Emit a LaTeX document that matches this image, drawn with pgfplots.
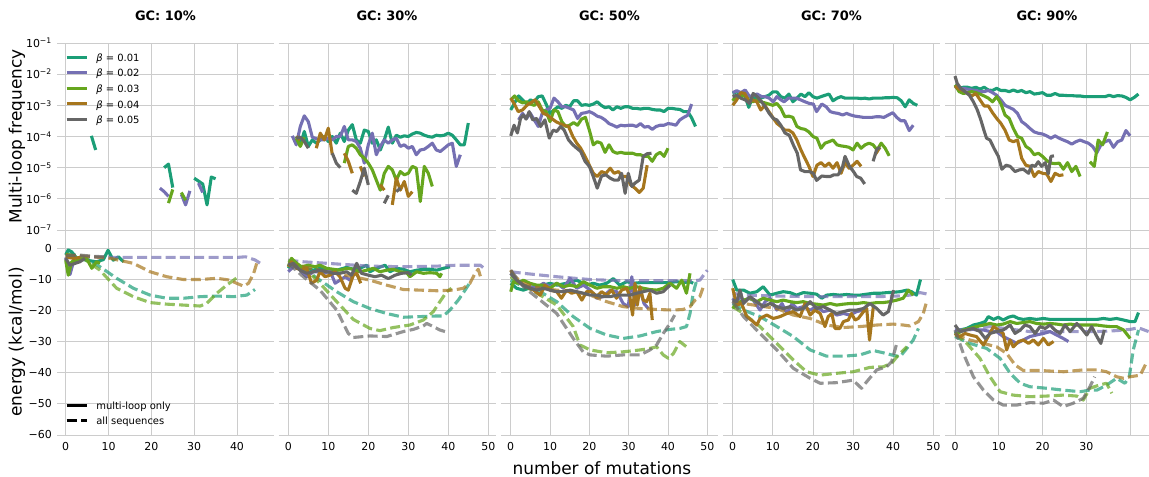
\documentclass[border=0pt]{standalone}
\usepackage{fontspec}
\setmainfont{DejaVu Sans}
\usepackage{pgfplots}
\pgfplotsset{compat=1.18}
\definecolor{c1}{HTML}{1B9E77}
\definecolor{c2}{HTML}{7570B3}
\definecolor{c3}{HTML}{66A61E}
\definecolor{c4}{HTML}{A6761D}
\definecolor{c5}{HTML}{666666}
\definecolor{gridc}{HTML}{CCCCCC}
\pgfplotsset{
  mylw/.style={line width=3.1bp, line join=round, line cap=butt},
  s1/.style={mylw, color=c1, forget plot},
  s2/.style={mylw, color=c2, forget plot},
  s3/.style={mylw, color=c3, forget plot},
  s4/.style={mylw, color=c4, forget plot},
  s5/.style={mylw, color=c5, forget plot},
  mydash/.style={mylw, draw opacity=0.7, dash pattern=on 10bp off 4.3bp},
  d1/.style={mydash, color=c1, forget plot},
  d2/.style={mydash, color=c2, forget plot},
  d3/.style={mydash, color=c3, forget plot},
  d4/.style={mydash, color=c4, forget plot},
  d5/.style={mydash, color=c5, forget plot},
  mybase/.style={
    scale only axis, width=217bp, anchor=south west,
    axis line style={draw=none},
    major tick length=0pt, tick style={draw=none},
    grid=major, major grid style={draw=gridc, line width=0.9bp},
    ticklabel style={font=\fontsize{11}{13}\selectfont, inner sep=0pt},
    xticklabel style={yshift=-7bp},
    yticklabel style={xshift=-5bp},
    unbounded coords=jump,
    title style={font=\bfseries\fontsize{13}{15}\selectfont, at={(0.5,1)}, anchor=base, yshift=16.3bp},
    legend cell align=left,
    legend image code/.code={\draw[#1] (0bp,1bp) -- (20bp,1bp);},
  },
  toprow/.style={mybase, height=187bp, ymin=1e-7, ymax=1e-1,
    ytick={1e-7,1e-6,1e-5,1e-4,1e-3,1e-2,1e-1}, yticklabels={,,,,,,}, xticklabels={,,,,,,}},
  botrow/.style={mybase, height=205bp, ymin=-60, ymax=5.8,
    ytick={-60,-50,-40,-30,-20,-10,0}, yticklabels={,,,,,,}},
  ylab/.style={ylabel style={at={(axis description cs:-0.184,#1)}, anchor=center, font=\fontsize{17}{20}\selectfont}},
}
\begin{document}
\begin{tikzpicture}
\useasboundingbox (0,0) rectangle (1149bp,477bp);

% ================= TOP ROW =================
\begin{semilogyaxis}[toprow, at={(57bp,247bp)}, xmin=-2.03, xmax=48.64, xtick={0,10,20,30,40},
  title={GC: 10\%},
  yticklabels={10\textsuperscript{−7},10\textsuperscript{−6},10\textsuperscript{−5},10\textsuperscript{−4},10\textsuperscript{−3},10\textsuperscript{−2},10\textsuperscript{−1}},
  ylabel={Multi-loop frequency}, ylab=0.5,
  legend style={draw=none, fill=none, inner sep=0pt, nodes={inner sep=0pt}, row sep=6.5bp, column sep=8bp,
    font=\fontsize{10}{12}\selectfont, at={(axis description cs:0,1)}, anchor=north west, xshift=8bp, yshift=-10.3bp}]
\addlegendimage{color=c1, line width=3.1bp}\addlegendentry{{\itshape β} = 0.01}
\addlegendimage{color=c2, line width=3.1bp}\addlegendentry{{\itshape β} = 0.02}
\addlegendimage{color=c3, line width=3.1bp}\addlegendentry{{\itshape β} = 0.03}
\addlegendimage{color=c4, line width=3.1bp}\addlegendentry{{\itshape β} = 0.04}
\addlegendimage{color=c5, line width=3.1bp}\addlegendentry{{\itshape β} = 0.05}
\addplot[s1] coordinates {(6,1.05e-4)(7,3.7e-5)(8,nan)(23,1.0e-5)(24,1.3e-5)(25,2.3e-6)(26,nan)(30,4.6e-6)(32,3.0e-6)(33,6.4e-7)(34,5.0e-6)(35,4.4e-6)};
\addplot[s2] coordinates {(22,2.2e-6)(23,1.7e-6)(24,1.2e-6)(25,nan)(27,1.4e-6)(28,6.4e-7)(29,1.8e-6)(30,nan)(31,3.2e-6)(32,1.6e-6)};
\addplot[s3] coordinates {(24,7.3e-7)(25,2.0e-6)(26,nan)(27,1.6e-6)(28,9e-7)};
\end{semilogyaxis}

\begin{semilogyaxis}[toprow, at={(278.5bp,247bp)}, xmin=-2.45, xmax=51.8, xtick={0,10,20,30,40,50}, title={GC: 30\%}]
\addplot[s1] coordinates {(2,1.0e-4)(3,5.4e-5)(4,1.45e-4)(5,4.8e-5)(6,7.8e-5)(7,6.1e-5)(8,7.8e-5)(9,1.0e-4)(10,6.9e-5)(11,1.0e-4)(12,6.1e-5)(13,1.28e-4)(14,6.9e-5)(15,1.6e-4)(16,2.4e-4)(17,7.8e-5)(18,6.1e-5)(19,1.6e-4)(20,1.45e-4)(21,6.1e-5)(22,7.8e-5)(23,3.7e-5)(24,7.8e-5)(25,2.0e-4)(26,6.1e-5)(27,1.1e-4)(28,9.5e-5)(29,1.05e-4)(30,1.0e-4)(31,1.2e-4)(32,1.35e-4)(33,1.28e-4)(34,1.1e-4)(35,1.0e-4)(36,9.5e-5)(37,1.1e-4)(38,1.05e-4)(39,1.1e-4)(40,1.28e-4)(41,1.1e-4)(42,7.8e-5)(43,5.4e-5)(44,5.4e-5)(45,2.7e-4)};
\addplot[s2] coordinates {(1,1.05e-4)(2,5.4e-5)(3,2.1e-4)(4,4.6e-4)(5,3.0e-4)(6,9.5e-5)(7,8.5e-5)(8,7.8e-5)(9,7.8e-5)(10,8.8e-5)(11,7.8e-5)(12,1.0e-4)(13,1.0e-4)(14,2.1e-4)(15,7.8e-5)(16,7.8e-5)(17,6.9e-5)(18,4.2e-5)(19,1.4e-5)(20,5.4e-5)(21,1.28e-4)(22,2.6e-5)(23,4.8e-5)(24,7.8e-5)(25,6.1e-5)(26,7.8e-5)(27,8.8e-5)(28,4.8e-5)(29,5.4e-5)(30,4.2e-5)(31,4.8e-5)(32,2.6e-5)(33,3.7e-5)(34,3.9e-5)(35,4.8e-5)(36,6.1e-5)(37,3.7e-5)(38,3.3e-5)(39,4.2e-5)(40,5.4e-5)(41,6.1e-5)(42,1.1e-5)(43,2.6e-5)};
\addplot[s3] coordinates {(2,8.8e-5)(3,4.8e-5)(4,9.5e-5)(5,nan)(14,1.4e-5)(15,4.8e-5)(16,5.4e-5)(17,4.2e-5)(18,2.6e-5)(19,2.0e-5)(20,1.4e-5)(21,8.5e-6)(22,4.0e-6)(23,1.9e-6)(24,6.6e-6)(25,1.1e-5)(26,8.5e-6)(27,4.0e-6)(28,7.5e-6)(29,5.9e-6)(30,6.6e-6)(31,1.1e-5)(32,9.6e-6)(33,8.2e-7)(34,1.1e-5)(35,6.6e-6)(36,2.5e-6)};
\addplot[s4] coordinates {(2,1.0e-4)(3,7.8e-5)(4,nan)(7,4.2e-5)(8,1.28e-4)(9,7.8e-5)(10,1.85e-4)(11,2.6e-5)(12,nan)(14,2.9e-5)(15,1.6e-5)(16,6.6e-6)(17,nan)(18,1.1e-5)(19,5.2e-6)(20,nan)(23,2.8e-6)(24,1.9e-6)(25,nan)(26,6.4e-7)(27,4.6e-6)(28,1.9e-6)(29,3.6e-6)(30,1.2e-6)(31,1.7e-6)};
\addplot[s5] coordinates {(2,8.8e-5)(3,9.5e-5)(4,6.9e-5)(5,4.2e-5)(6,nan)(11,2.9e-5)(12,1.4e-5)(13,1.0e-5)(14,nan)(16,1.9e-6)(17,1.5e-6)(18,3.6e-6)(19,9.6e-6)(20,2.8e-6)(21,nan)(24,7.2e-7)(25,1.3e-6)(26,nan)(27,1.7e-6)(28,2.2e-6)};
\end{semilogyaxis}

\begin{semilogyaxis}[toprow, at={(501bp,247bp)}, xmin=-2.47, xmax=52.72, xtick={0,10,20,30,40,50}, title={GC: 50\%}]
\addplot[s1] coordinates {(0,7.1e-4)(1,1.2e-3)(2,2.0e-3)(3,1.5e-3)(4,1.1e-3)(5,1.5e-3)(6,1.3e-3)(7,1.9e-3)(8,2.0e-3)(9,1.1e-3)(10,5.5e-4)(11,7.1e-4)(12,9e-4)(13,8e-4)(14,1.0e-3)(15,9e-4)(16,1.4e-3)(17,1.4e-3)(18,1.0e-3)(19,1.05e-3)(20,1.0e-3)(21,1.1e-3)(22,1.3e-3)(23,1.0e-3)(24,8.4e-4)(25,9e-4)(26,7.1e-4)(27,9e-4)(28,8e-4)(29,9e-4)(30,9e-4)(31,8e-4)(32,8e-4)(33,7.6e-4)(34,8e-4)(35,8e-4)(36,7.4e-4)(37,7.1e-4)(38,7.1e-4)(39,6.3e-4)(40,8e-4)(41,8e-4)(42,7.6e-4)(43,7.4e-4)(44,6.3e-4)(45,6.3e-4)(46,4e-4)(47,2.1e-4)};
\addplot[s2] coordinates {(2,3.4e-4)(3,5.5e-4)(4,3.8e-4)(5,5.5e-4)(6,3.4e-4)(7,2.1e-4)(8,5.5e-4)(9,7.1e-4)(10,8e-4)(11,1.7e-3)(12,1.3e-3)(13,9e-4)(14,9e-4)(15,8e-4)(16,7.1e-4)(17,3.8e-4)(18,5.5e-4)(19,5.8e-4)(20,6.3e-4)(21,5.5e-4)(22,4.5e-4)(23,4.1e-4)(24,3.4e-4)(25,2.6e-4)(26,2.3e-4)(27,2.0e-4)(28,2.3e-4)(29,2.2e-4)(30,2.3e-4)(31,2.3e-4)(32,2.1e-4)(33,2.6e-4)(34,2.0e-4)(35,2.1e-4)(36,1.7e-4)(37,2.1e-4)(38,2.3e-4)(39,2.3e-4)(40,2.6e-4)(41,2.5e-4)(42,2.3e-4)(43,3.4e-4)(44,4.1e-4)(45,4.8e-4)(46,1.1e-3)};
\addplot[s3] coordinates {(0,1.5e-3)(1,2.0e-3)(2,1.4e-3)(3,1.2e-3)(4,1.3e-3)(5,1.1e-3)(6,1.0e-3)(7,1.3e-3)(8,7.1e-4)(9,6.3e-4)(10,3e-4)(11,7.1e-4)(12,6.3e-4)(13,3e-4)(14,2.1e-4)(15,2.3e-4)(16,2.8e-4)(17,2.3e-4)(18,3.6e-4)(19,4.1e-4)(20,1.6e-4)(21,5.4e-5)(22,6.8e-5)(23,6.1e-5)(24,3.1e-5)(25,5.4e-5)(26,3.3e-5)(27,2.9e-5)(28,3.1e-5)(29,2.9e-5)(30,2.9e-5)(31,2.9e-5)(32,2.6e-5)(33,2.6e-5)(34,2.3e-5)(35,2.3e-5)(36,1.6e-5)(37,2.6e-5)(38,3.1e-5)(39,2.3e-5)(40,4.2e-5)};
\addplot[s4] coordinates {(0,1.7e-3)(0.85,1.15e-3)(1.9,6.3e-4)(3.0,7.1e-4)(4.1,1.0e-3)(5.1,1.2e-3)(6.2,1.5e-3)(7.3,9e-4)(8.3,5.5e-4)(9.3,4.9e-4)(10.4,3.8e-4)(11.5,3.0e-4)(12.5,2.6e-4)(13.5,2.3e-4)(14.7,2.1e-4)(15.8,1.0e-4)(16.8,6.1e-5)(17.8,4.2e-5)(18.9,2.3e-5)(20,1.2e-5)(21,6.6e-6)(22,5.2e-6)(23.1,7.5e-6)(24.2,6.6e-6)(25.3,9.6e-6)(26.3,6.6e-6)(27.4,7.5e-6)(28.5,5.2e-6)(29.5,5.2e-6)(30.5,2.8e-6)(31.6,2.2e-6)(32.7,1.6e-6)(33.7,2.2e-6)(34.7,1.2e-5)};
\addplot[s5] coordinates {(0,1.05e-4)(0.85,2.3e-4)(1.7,1.3e-4)(2.5,3.8e-4)(3.2,4.9e-4)(3.9,3.6e-4)(4.7,6.3e-4)(5.6,3.4e-4)(6.6,3.8e-4)(7.6,2.1e-4)(8.7,3.4e-4)(9.8,8.9e-5)(10.8,1.6e-4)(11.7,1.45e-4)(12.7,2.1e-4)(13.6,1.6e-4)(14.7,7.8e-5)(15.8,5.4e-5)(16.8,4.2e-5)(17.8,3.3e-5)(18.9,1.6e-5)(20,1.1e-5)(21,5.2e-6)(22,2.2e-6)(23.1,5.4e-6)(24.2,5.9e-6)(25.3,4.6e-6)(26.3,4.0e-6)(27.4,4.0e-6)(28.2,6.6e-6)(29.1,1.5e-6)(29.9,6.6e-6)(30.8,2.5e-6)(31.6,3.2e-6)(32.7,4.0e-6)(33.7,2.3e-5)(34.7,2.8e-5)(35.8,2.9e-5)};
\end{semilogyaxis}

\begin{semilogyaxis}[toprow, at={(723bp,247bp)}, xmin=-2.42, xmax=51.67, xtick={0,10,20,30,40,50}, title={GC: 70\%}]
\addplot[s1] coordinates {(0,2.4e-3)(1,2.7e-3)(2,2.4e-3)(3,2.1e-3)(4,8.6e-4)(5,1.9e-3)(6,1.7e-3)(7,1.7e-3)(8,1.9e-3)(9,2.1e-3)(10,2.7e-3)(11,2.7e-3)(12,1.9e-3)(13,1.7e-3)(14,2.3e-3)(15,1.3e-3)(16,1.7e-3)(17,2.3e-3)(18,1.9e-3)(19,2.55e-3)(20,1.9e-3)(21,1.7e-3)(22,1.9e-3)(23,2.1e-3)(24,2.3e-3)(25,1.4e-3)(26,1.7e-3)(27,1.9e-3)(28,1.7e-3)(29,1.7e-3)(30,1.7e-3)(31,1.7e-3)(32,1.65e-3)(33,1.7e-3)(34,1.6e-3)(35,1.7e-3)(36,1.7e-3)(37,1.7e-3)(38,1.75e-3)(39,1.75e-3)(40,1.8e-3)(41,1.75e-3)(42,1.4e-3)(43,9e-4)(44,1.5e-3)(45,1.15e-3)(46,1.0e-3)};
\addplot[s2] coordinates {(0,2.55e-3)(1,2.95e-3)(2,2.55e-3)(3.1,3.1e-3)(4.2,1.9e-3)(5.1,2.1e-3)(6.1,2.3e-3)(7.2,1.9e-3)(8.1,1.9e-3)(9.1,1.7e-3)(10.1,1.3e-3)(11,1.9e-3)(12,1.5e-3)(12.8,1.3e-3)(13.9,1.7e-3)(15,1.7e-3)(15.9,1.7e-3)(16.9,1.5e-3)(18,1.3e-3)(19.1,1.15e-3)(20.1,1.1e-3)(20.9,6.3e-4)(22.2,1.1e-3)(23.3,9e-4)(24.3,6.3e-4)(25.2,5.8e-4)(26.3,5.5e-4)(27.4,4.9e-4)(28.4,5.5e-4)(29.4,4.9e-4)(30.5,4.5e-4)(31.6,4.3e-4)(32.6,4.1e-4)(33.6,4.1e-4)(34.6,4.1e-4)(35.7,4.3e-4)(36.7,4.3e-4)(37.7,4.1e-4)(38.8,4.9e-4)(39.9,5.8e-4)(40.9,4.1e-4)(41.9,3.2e-4)(42.9,3.2e-4)(44,1.55e-4)(45,2.3e-4)};
\addplot[s3] coordinates {(0,1.4e-3)(1,2.1e-3)(2,1.9e-3)(3,2.1e-3)(4,1.5e-3)(5,1.3e-3)(6,1.5e-3)(7,1.3e-3)(8,1.2e-3)(9,1.1e-3)(10,1.0e-3)(11,1.15e-3)(12,8e-4)(13,4.3e-4)(14,4.5e-4)(15,4.1e-4)(16,2.1e-4)(17,1.8e-4)(18,1.7e-4)(19,1.4e-4)(20,1.0e-4)(21,8.8e-5)(22,4.2e-5)(23,6.1e-5)(24,6.8e-5)(25,7.7e-5)(26,5.4e-5)(27,5.0e-5)(28,4.8e-5)(29,4.5e-5)(30,3.7e-5)(31,6.1e-5)(32,4.2e-5)(33,5.4e-5)(34,6.1e-5)(35,5.4e-5)(36,3.7e-5)(37,6.1e-5)(38,4.2e-5)(39,2.4e-5)};
\addplot[s4] coordinates {(0,1.0e-3)(1,1.5e-3)(2,2.55e-3)(3,2.4e-3)(4,1.3e-3)(5,1.5e-3)(6,1.3e-3)(7,7.1e-4)(8,1.0e-3)(9,6.3e-4)(10,4.1e-4)(11,2.65e-4)(12,2.1e-4)(13,1.6e-4)(14,1.6e-4)(15,1.3e-4)(16,7.7e-5)(17,3.7e-5)(18,2.0e-5)(19,1.1e-5)(20,5.2e-6)(21,1.2e-5)(22,1.45e-5)(23,1.1e-5)(24,1.4e-5)(25,9.6e-6)(26,1.45e-5)(27,6.6e-6)(28,1.45e-5)(29,9.6e-6)(30,1.2e-5)(31,1.6e-5)(32,1.1e-5)(33,nan)(35.5,2.6e-5)(36.7,4.5e-5)};
\addplot[s5] coordinates {(0,1.9e-3)(1,2.1e-3)(2,1.7e-3)(3.1,1.5e-3)(4.2,1.15e-3)(5.1,2.4e-3)(6.1,1.9e-3)(7.2,1.3e-3)(8.1,9e-4)(9.1,5.5e-4)(10.1,3.8e-4)(11,3.4e-4)(12,2.3e-4)(13,1.3e-4)(14.1,1.1e-4)(15.1,5.4e-5)(16.1,2.9e-5)(16.9,8.5e-6)(18,7.5e-6)(19.1,7.5e-6)(20.1,6.6e-6)(20.9,3.9e-6)(22.2,5.4e-6)(23.3,5.2e-6)(24.3,5.2e-6)(25.2,5.9e-6)(26.3,5.9e-6)(27.4,1.1e-5)(28,2.3e-5)(29.1,1.1e-5)(30.1,7.5e-6)(30.9,5.2e-6)(31.9,4.6e-6)(32.9,3.0e-6)(34,nan)(35,1.6e-5)(35.9,3.9e-5)(36.7,4.5e-5)};
\end{semilogyaxis}

\begin{semilogyaxis}[toprow, at={(945bp,247bp)}, width=204bp, xmin=-2.28, xmax=44.3, xtick={0,10,20,30,40}, title={GC: 90\%}]
\addplot[s1] coordinates {(0,4.5e-3)(0.95,3.5e-3)(1.9,3.8e-3)(2.86,3.8e-3)(3.81,3.5e-3)(4.76,3.8e-3)(5.71,3.3e-3)(6.66,3.8e-3)(7.62,3.1e-3)(8.57,3.0e-3)(9.52,3.5e-3)(10.47,3.0e-3)(11.42,3.0e-3)(12.38,2.75e-3)(13.33,3.1e-3)(14.28,2.75e-3)(15.23,3.0e-3)(16.18,2.55e-3)(17.14,2.75e-3)(18.09,2.3e-3)(19.04,2.4e-3)(19.99,2.55e-3)(20.94,2.1e-3)(21.9,2.1e-3)(22.85,2.4e-3)(23.8,2.1e-3)(24.75,2.1e-3)(25.7,2.05e-3)(26.66,2.05e-3)(27.61,2.0e-3)(28.56,2.0e-3)(29.51,1.9e-3)(30.46,1.9e-3)(31.42,1.9e-3)(32.37,1.9e-3)(33.32,1.9e-3)(34.27,1.9e-3)(35.22,2.1e-3)(36.18,1.9e-3)(37.13,2.05e-3)(38.08,2.0e-3)(39.03,1.8e-3)(39.98,1.5e-3)(40.94,1.8e-3)(41.89,2.3e-3)};
\addplot[s2] coordinates {(0,4.0e-3)(0.95,3.3e-3)(1.9,3.5e-3)(2.86,3.3e-3)(3.81,3.1e-3)(4.76,3.0e-3)(5.71,2.75e-3)(6.66,2.75e-3)(7.62,3.0e-3)(8.57,2.55e-3)(9.52,2.1e-3)(10.47,1.5e-3)(11.42,1.0e-3)(12.38,8.6e-4)(13.33,7.4e-4)(14.28,5.5e-4)(15.23,3.0e-4)(16.18,2.4e-4)(17.14,1.8e-4)(18.09,1.4e-4)(19.04,1.27e-4)(19.99,1.2e-4)(20.94,1.05e-4)(21.9,8.8e-5)(22.85,1.05e-4)(23.8,8.8e-5)(24.75,7.7e-5)(25.7,6.8e-5)(26.66,5.7e-5)(27.61,6.8e-5)(28.56,7.7e-5)(29.51,6.8e-5)(30.46,6.1e-5)(31.42,4.8e-5)(32.37,3.0e-5)(33.32,5.4e-5)(34.27,6.8e-5)(35.22,7.7e-5)(36.18,4.5e-5)(37.13,6.8e-5)(38.08,7.7e-5)(39.03,1.55e-4)(39.98,1.05e-4)};
\addplot[s3] coordinates {(0,4.5e-3)(0.95,2.75e-3)(1.9,2.4e-3)(2.86,2.55e-3)(3.81,2.75e-3)(4.76,2.55e-3)(5.71,2.3e-3)(6.66,2.0e-3)(7.62,1.7e-3)(8.57,1.3e-3)(9.52,1.9e-3)(10.47,1.15e-3)(11.42,4.9e-4)(12.38,3.8e-4)(13.33,1.8e-4)(14.28,1.0e-4)(15.23,8.8e-5)(16.18,4.8e-5)(17.14,3.9e-5)(18.09,2.6e-5)(19.04,2.9e-5)(19.99,2.3e-5)(20.94,1.7e-5)(21.9,1.4e-5)(22.85,1.35e-5)(23.8,1.4e-5)(24.75,8.9e-6)(25.7,1.45e-5)(26.66,7.5e-6)(27.61,1.1e-5)(28.56,5.2e-6)(29.5,nan)(30.8,1.55e-5)(31.8,1.1e-5)(32.7,7.7e-5)(33.7,5.4e-5)(34.8,1.4e-4)};
\addplot[s4] coordinates {(0,4.2e-3)(0.95,3.3e-3)(1.9,3.0e-3)(2.86,2.4e-3)(3.81,2.0e-3)(4.76,2.4e-3)(5.71,1.5e-3)(6.66,9.5e-4)(7.62,9.5e-4)(8.57,5.8e-4)(9.52,3.8e-4)(10.47,2.65e-4)(11.42,1.6e-4)(12.38,7.7e-5)(13.33,6.8e-5)(14.28,7.7e-5)(15.23,2.0e-5)(16.18,1.2e-5)(17.14,1.1e-5)(18.09,5.2e-6)(19.04,7.5e-6)(19.99,6.6e-6)(20.94,6.3e-6)(21.9,3.6e-6)(22.85,6.6e-6)(23.8,5.6e-6)(24.75,5.9e-6)};
\addplot[s5] coordinates {(0,8.7e-3)(0.5,5.1e-3)(1.3,3.5e-3)(2.3,2.75e-3)(3.3,2.1e-3)(4.2,1.3e-3)(5.1,7.1e-4)(5.9,3.4e-4)(6.6,1.6e-4)(7.2,8.8e-5)(8,7.7e-5)(8.9,4.2e-5)(9.9,2.3e-5)(10.7,8.9e-6)(11.7,1.2e-5)(12.6,1.1e-5)(13.7,7.5e-6)(14.7,8.5e-6)(15.6,8.9e-6)(16.8,6.6e-6)(17.5,1.2e-5)(18.3,1.1e-5)(19,1.55e-5)(19.8,1.1e-5)(20.6,1.45e-5)(21.3,6.3e-6)(21.9,2.3e-5)(22.6,2.4e-5)};
\end{semilogyaxis}

% ================= BOTTOM ROW =================
\begin{axis}[botrow, at={(57bp,42bp)}, xmin=-2.03, xmax=48.64, xtick={0,10,20,30,40},
  xticklabels={0,10,20,30,40},
  yticklabels={−60,−50,−40,−30,−20,−10,0},
  ylabel={energy (kcal/mol)}, ylab=0.454,
  legend style={draw=none, fill=none, inner sep=0pt, nodes={inner sep=0pt}, row sep=6.3bp, column sep=8bp,
    font=\fontsize{10}{12}\selectfont, at={(axis description cs:0,0)}, anchor=south west, xshift=8bp, yshift=8.5bp}]
\addlegendimage{color=black, line width=3.1bp}\addlegendentry{multi-loop only}
\addlegendimage{color=black, line width=3.1bp, dash pattern=on 10bp off 4.3bp}\addlegendentry{all sequences}
\addplot[s1] coordinates {(0,-2.2)(0.6,-0.6)(1.4,-1.2)(2.6,-3.3)(4.9,-3.9)(7.2,-4.4)(8.8,-3.7)(9.9,-0.7)(11.1,-3.9)(12.3,-2.8)(13.5,-4.4)};
\addplot[d1] coordinates {(0,-1.7)(4.1,-2.8)(8,-6.0)(11.9,-9.7)(15.8,-12.9)(19.7,-15.1)(23.6,-16.1)(27.5,-16.1)(31.4,-15.6)(35.3,-15.4)(39.2,-15.6)(42.3,-15.1)(44.2,-13.3)};
\addplot[s2] coordinates {(0,-3.0)(1,-8.5)(2,-3.5)};
\addplot[d2] coordinates {(0,-3.3)(2,-2.8)(10,-3.0)(20,-3.0)(30,-3.0)(40,-3.0)(42,-2.8)(44.2,-3.8)(45.9,-5.3)};
\addplot[s3] coordinates {(0,-3.9)(0.6,-8.7)(1.4,-4.4)(3,-3.9)(4.9,-3.3)(6.1,-6.5)(7.2,-4.4)(8,-4.9)};
\addplot[d3] coordinates {(0,-1.9)(4.1,-3.3)(8,-7.1)(11.9,-12.9)(15.8,-15.6)(19.7,-17.5)(23.6,-18.0)(27.5,-18.3)(31.4,-18.6)(32.9,-17.8)(35.3,-14.5)(37.6,-11.9)(39.2,-10.3)(40.3,-9.2)};
\addplot[s4] coordinates {(0,-2.8)(1.8,-3.3)(3.4,-3.0)};
\addplot[d4] coordinates {(0,-2.2)(4.9,-2.6)(10.4,-3.3)(15.8,-4.9)(19.7,-7.6)(23.6,-9.2)(27.5,-10.1)(31.4,-10.1)(35.3,-9.7)(38.4,-10.3)(39.9,-11.3)(41.5,-12.2)(42.7,-11.3)(43.9,-8.1)(44.6,-4.9)};
\addplot[s5] coordinates {(0,-3.3)(1,-5.5)(2.2,-4.9)(3.3,-4.4)(4.5,-3.3)};
\addplot[d5] coordinates {(0,-2.5)(3,-2.2)(6,-2.6)(9,-2.8)};
\end{axis}

\begin{axis}[botrow, at={(278.5bp,42bp)}, xmin=-2.45, xmax=51.8, xtick={0,10,20,30,40,50}, xticklabels={0,10,20,30,40,50}]
\addplot[s1] coordinates {(0,-6.5)(1.25,-4.4)(2.9,-6.0)(4.6,-6.5)(6.25,-7.1)(7.9,-6.5)(9.6,-7.1)(11.25,-7.6)(12.9,-6.8)(14.6,-6.2)(16.25,-6.8)(17.9,-6.5)(19.6,-5.5)(20.4,-7.6)(22.1,-6.5)(24.2,-5.5)(25.4,-7.6)(27.1,-6.5)(28.75,-6.8)(30.4,-7.6)(32.1,-7.1)(33.75,-6.8)(35.4,-6.8)(37.1,-7.1)(38.75,-6.5)(40.4,-6.0)};
\addplot[d1] coordinates {(0,-4.4)(3.75,-6.5)(7.9,-10.3)(12.1,-14.0)(16.25,-17.2)(20.4,-19.4)(24.6,-21.0)(28.75,-22.2)(32.9,-22.0)(37.1,-21.8)(38.75,-21.8)(40.4,-19.9)(42.5,-16.7)(44.2,-13.5)(45.4,-11.1)};
\addplot[s2] coordinates {(0,-7.6)(1.25,-6.0)(2.1,-5.5)(3.3,-7.6)(4.6,-9.2)(6.25,-7.6)(7.9,-7.6)(9.2,-8.1)(10.4,-7.1)(11.7,-11.3)(12.9,-10.3)(14.2,-9.2)(15.4,-10.3)(16.7,-7.6)(17.5,-9.2)};
\addplot[d2] coordinates {(0,-3.9)(3.75,-4.4)(12.1,-5.1)(20.4,-5.8)(28.75,-6.0)(37.1,-5.8)(42.1,-5.5)(48,-5.5)(49.2,-6.8)};
\addplot[s3] coordinates {(0,-6.0)(0.8,-3.3)(2.1,-4.9)(3.3,-6.0)(5,-5.5)(6.7,-6.0)(7.9,-5.5)(9.6,-6.5)(11.25,-6.8)(12.9,-7.1)(14.6,-6.5)(16.25,-6.8)(17.9,-7.6)(19.6,-7.1)(21.25,-6.5)(22.9,-7.6)(24.6,-7.1)(26.25,-6.8)(27.9,-7.6)(29.6,-7.9)(30.4,-9.2)(32.1,-7.6)(33.75,-8.1)(35.4,-7.9)(37.1,-8.1)(37.9,-9.2)(38.3,-8.1)};
\addplot[d3] coordinates {(0,-3.9)(3.75,-6.0)(7.9,-11.3)(12.1,-17.2)(16.25,-22.9)(20.4,-25.8)(22.9,-26.5)(26.25,-25.5)(30.4,-24.7)(33.75,-23.1)(36.25,-20.4)(37.9,-17.2)(39.6,-14.0)(40.8,-12.9)};
\addplot[s4] coordinates {(0,-6.0)(0.8,-4.4)(2.1,-6.5)(3.3,-7.1)(4.6,-6.5)(5.8,-11.3)(7.1,-10.3)(7.9,-7.6)(9.2,-9.2)(10.4,-8.7)(11.7,-7.6)(12.9,-9.2)(14.2,-12.9)(15,-13.5)(16.25,-8.7)(17.1,-8.1)(18.1,-11.3)};
\addplot[d4] coordinates {(0,-4.9)(3.75,-6.0)(7.9,-7.1)(12.1,-8.1)(16.25,-9.2)(20.4,-10.3)(24.6,-11.9)(28.75,-13.3)(32.9,-13.5)(37.1,-13.7)(41.25,-13.5)(43.75,-12.9)(45.4,-11.3)(46.7,-8.1)(47.5,-6.8)(48.3,-10.3)};
\addplot[s5] coordinates {(0,-5.5)(1.25,-4.9)(2.9,-7.1)(4.6,-8.1)(6.25,-7.6)(7.9,-7.1)(9.6,-7.6)(11.25,-8.1)(12.9,-8.1)(14.6,-7.6)(15.8,-8.7)(17.1,-4.9)(18.3,-8.1)(20,-8.7)(21.7,-9.2)(23.3,-8.7)(25,-9.8)(26.7,-8.7)(28.3,-8.1)(30,-7.9)(30.8,-8.7)};
\addplot[d5] coordinates {(0,-4.9)(3.75,-9.2)(7.9,-13.5)(12.1,-19.9)(15,-27.4)(16.25,-28.7)(20.4,-28.2)(24.6,-28.4)(28.75,-26.8)(31.25,-26.1)(33.75,-25.0)(34.6,-24.2)(36.25,-25.2)(37.9,-26.3)(39.2,-26.8)};
\end{axis}

\begin{axis}[botrow, at={(501bp,42bp)}, xmin=-2.47, xmax=52.72, xtick={0,10,20,30,40,50}, xticklabels={0,10,20,30,40,50},
  xlabel={number of mutations}, xlabel style={at={(axis description cs:0.465,-0.161)}, anchor=center, font=\fontsize{17}{20}\selectfont}]
\addplot[s1] coordinates {(0,-11.3)(1.5,-12.9)(3.2,-13.5)(5.8,-12.4)(8.3,-11.9)(10,-11.3)(11.7,-11.9)(14.2,-11.3)(16.8,-10.3)(19.3,-11.9)(21,-11.3)(22.6,-11.9)(24.4,-11.3)(26.1,-9.8)(27.7,-11.9)(29.5,-10.8)(31.2,-11.3)(32.9,-11.1)(34.6,-11.1)(37.1,-11.1)(39.7,-11.1)(42.2,-10.8)(43.9,-11.1)(45.6,-10.8)(46.4,-11.3)};
\addplot[d1] coordinates {(0,-10.3)(3.2,-12.4)(7.5,-14)(11.7,-17.2)(15.9,-22)(20.2,-25.8)(24.4,-27.9)(28.6,-29)(32.9,-28.2)(37.1,-26.8)(40.5,-26.1)(43,-25.8)(44.7,-25.2)(45.6,-21)(46.4,-14.5)(47.3,-10.3)};
\addplot[s2] coordinates {(0,-8.1)(1.5,-10.3)(3.2,-11.9)(4.9,-12.4)(6.6,-12.9)(8.3,-11.3)(10,-12.4)(11.7,-11.3)(13.4,-12.9)(15.1,-9.7)(16.8,-12.9)(18.5,-11.9)(20.2,-13.5)(21.9,-16.1)(23.5,-15.6)(25.3,-13.5)(27,-14)(28.6,-17.8)(29.9,-18.8)(30.8,-9.2)(31.6,-18.3)(32.9,-13.5)(33.9,-17.8)(35,-19.4)};
\addplot[d2] coordinates {(0,-7.6)(3.2,-8.1)(11.7,-9.2)(20.2,-10.1)(28.6,-10.5)(37.1,-10.5)(45.6,-10.5)(48.1,-10.3)(50,-7.1)};
\addplot[s3] coordinates {(0,-14)(0.7,-10.8)(1.9,-11.3)(3.2,-10.3)(4.9,-11.3)(6.6,-11.9)(8.3,-11.9)(10,-12.9)(11.7,-11.3)(13.4,-12.4)(15.1,-11.9)(16.8,-12.4)(18.5,-10.8)(20.2,-11.9)(21.9,-12.9)(23.5,-12.4)(25.3,-12.4)(27,-12.9)(28.6,-12.4)(30.3,-12.9)(32,-12.4)(33.7,-12.9)(35.4,-13.3)(37.1,-13.5)(38.8,-12.9)(40.5,-11.3)(42.2,-12.9)(43.5,-10.3)(44.7,-14.5)(45.6,-8.1)};
\addplot[d3] coordinates {(0,-9.2)(3.2,-11.9)(7.5,-15.1)(11.7,-18.3)(15.9,-25.2)(17.6,-31.1)(20.2,-32.7)(24.4,-33.6)(28.6,-33.3)(32.9,-32.7)(35.4,-32.2)(37.1,-31.7)(38.8,-34.3)(40.1,-35.4)(41.4,-33.8)(43,-30)(44.7,-31.7)};
\addplot[s4] coordinates {(0,-7.1)(1.1,-9.7)(2.4,-11.3)(4.1,-12.4)(5.8,-13.5)(7.5,-15.1)(8.7,-11.9)(10,-13.5)(11.7,-14)(12.9,-16.1)(14.2,-13.5)(15.5,-14.5)(16.8,-14)(18.1,-16.7)(19.3,-14)(20.6,-14)(21.9,-15.6)(23.1,-14)(24.4,-15.1)(25.7,-13.5)(26.9,-16.1)(28.2,-13.5)(29.5,-12.9)(30.3,-15.6)(31,-21.5)(31.6,-11.3)(32.2,-18.3)(32.9,-12.4)(33.7,-16.7)(34.6,-17.2)(35.4,-14.5)(36,-23.1)};
\addplot[d4] coordinates {(0,-8.1)(3.2,-11.3)(7.5,-12.9)(11.7,-13.5)(15.9,-14.0)(20.2,-15.1)(24.4,-17.2)(28.6,-18.8)(32.9,-19.4)(37.1,-19.7)(41.4,-19.9)(43.9,-19.7)(45.6,-18.8)(46.9,-16.7)(48.1,-15.6)(49,-12.4)};
\addplot[s5] coordinates {(0,-8.1)(1.5,-10.3)(3.2,-11.9)(4.9,-12.9)(6.6,-13.5)(8.3,-12.9)(10,-13.5)(11.7,-14)(13.4,-14)(15.1,-13.5)(16.8,-14)(18.5,-14.5)(20.2,-15.1)(21.9,-15.1)(23.5,-15.6)(25.3,-15.6)(27,-15.1)(28.6,-15.1)(30.3,-15.1)(32,-14.5)(33.7,-14)(35.4,-13.5)(37.1,-14.5)(38.8,-14)(40.5,-11.9)};
\addplot[d5] coordinates {(0,-7.1)(3.2,-12.4)(7.5,-16.7)(11.7,-21)(15.9,-29)(18.4,-33.3)(20.2,-34.3)(24.4,-34.7)(28.6,-34.3)(32.9,-34.3)(35.4,-32.7)(37.1,-31.1)(38.8,-27.4)(40.5,-24.2)(41.7,-21.5)};
\end{axis}

\begin{axis}[botrow, at={(723bp,42bp)}, xmin=-2.42, xmax=51.67, xtick={0,10,20,30,40,50}, xticklabels={0,10,20,30,40,50}]
\addplot[s1] coordinates {(0,-10.1)(1,-13.5)(2.7,-13.5)(4.3,-14.5)(6,-14)(7.6,-12.4)(9.3,-15.1)(11,-14.5)(12.6,-14)(14.3,-14.3)(15.9,-15.1)(17.6,-14.3)(19.3,-14.5)(20.9,-14.8)(22.2,-16.1)(23.4,-15.1)(25.1,-14.9)(26.7,-15.1)(28.4,-14.9)(30.1,-15.1)(31.7,-15.1)(33.4,-14.8)(35.1,-14.5)(36.7,-14.5)(38.4,-14.3)(40,-14.2)(41.7,-14)(43.4,-13.5)(44.6,-14)(45.8,-15.1)(46.8,-10.1)};
\addplot[d1] coordinates {(0,-17.8)(2.7,-19.9)(6.8,-22)(11,-25.2)(15.1,-28.4)(19.3,-32.7)(23.4,-34.7)(27.6,-34.7)(31.7,-34.3)(35.1,-32.9)(37.5,-33.6)(39.6,-34.3)(41.7,-34.9)(43.4,-32.2)(45,-29.5)(46.3,-25.8)};
\addplot[s2] coordinates {(0,-16.1)(1,-17.8)(1.8,-15.1)(2.7,-17.2)(3.9,-16.1)(5.1,-16.7)(6.8,-19.9)(8.1,-17.2)(9.3,-16.1)(11,-19.9)(12.3,-17.8)(13.5,-21)(14.8,-17.8)(16,-19.4)(17.6,-18.8)(19.3,-19.9)(20.9,-18.8)(22.6,-20.4)(24.3,-19.9)(25.9,-21.5)(27.6,-21)(29.2,-21.5)(30.9,-20.4)(32.6,-19.9)};
\addplot[d2] coordinates {(0,-14.5)(2.7,-15.1)(11,-15.4)(19.3,-15.6)(27.6,-15.6)(35.9,-15.6)(40.9,-15.4)(44.2,-15.1)(46.7,-14.3)(48.3,-14.7)};
\addplot[s3] coordinates {(0,-19.4)(1,-17.8)(2.7,-16.7)(4.3,-16.1)(6,-17.2)(7.6,-16.1)(9.3,-16.7)(11,-17.2)(12.6,-16.7)(14.3,-17.2)(15.9,-17.5)(17.6,-17.2)(19.3,-17.8)(20.9,-18)(22.6,-18.3)(24.3,-17.8)(25.9,-18.3)(27.6,-18)(29.2,-17.8)(30.9,-17.8)(32.6,-17.5)(34.2,-17.8)(35.9,-17.5)(37.5,-17.5)(39.2,-17.2)(40.9,-16.7)(42.5,-16.1)(43.8,-13.5)(45,-15.1)};
\addplot[d3] coordinates {(0,-18.8)(2.7,-21)(6.8,-25.2)(11,-30.6)(15.1,-35.9)(18.4,-39.7)(21.7,-40.8)(25.9,-40.2)(30,-39.7)(34.2,-38.3)(37.5,-38.1)(39.6,-37)(41.3,-34.3)(43.4,-31.7)};
\addplot[s4] coordinates {(0,-12.9)(1,-18.3)(2.2,-17.8)(3.5,-22)(5.1,-23.6)(6,-24.7)(6.8,-22.6)(8.5,-21.5)(10.1,-22.6)(11.8,-22)(13.5,-21)(15.1,-20.4)(16.8,-22)(18,-17.8)(19.3,-21.5)(20.5,-19.9)(21.8,-21)(23,-25.2)(23.8,-22)(24.7,-21)(25.5,-25.8)(26.7,-25.8)(27.6,-23.6)(28.8,-23.1)(29.6,-21)(30.5,-23.1)(31.3,-22.6)(32.6,-20.4)(33.4,-19.4)(34.1,-29.5)(35.1,-18.3)};
\addplot[d4] coordinates {(0,-17.2)(2.7,-17.8)(6.8,-18.6)(11,-19.4)(15.1,-21.5)(19.3,-22.6)(23.4,-24.7)(27.6,-25.5)(31.7,-25.2)(35.9,-24.7)(40,-24.4)(42.5,-24.7)(44.2,-25)(46.3,-23.6)(47.5,-21)(48.2,-17.8)};
\addplot[s5] coordinates {(0,-16.7)(1,-17.2)(1.8,-13.5)(2.7,-17.8)(4.3,-15.6)(6,-17.2)(7.6,-18.8)(9.3,-17.8)(11,-18.8)(12.6,-19.4)(14.3,-18.8)(15.9,-19.9)(17.6,-19.4)(19.3,-17.2)(20.9,-19.4)(22.6,-18.8)(24.3,-19.9)(25.9,-21)(27.6,-20.4)(29.2,-19.9)(30.9,-19.9)(32.6,-19.4)(34.2,-17.8)(35.9,-19.4)(37.5,-21.5)(38.8,-20.4)(40.1,-13.5)};
\addplot[d5] coordinates {(0,-17.2)(2.7,-22)(6.8,-27.4)(11,-32.7)(15.1,-38.6)(19.3,-41.8)(21.8,-43.4)(25.9,-43.2)(30,-42.4)(32.1,-45)(33.4,-42.9)(35.9,-39.1)(38.4,-38.1)(39.6,-36.5)(40.9,-30.6)};
\end{axis}

\begin{axis}[botrow, at={(945bp,42bp)}, width=204bp, xmin=-2.28, xmax=44.3, xtick={0,10,20,30,40}, xticklabels={0,10,20,30,}]
\addplot[s1] coordinates {(0,-27.4)(1.1,-26.3)(2.7,-25.8)(4.2,-24.7)(5.7,-24.2)(6.9,-23.6)(7.6,-22)(8.8,-22.9)(9.9,-22.2)(11,-23.1)(12.2,-22.2)(13.3,-21.8)(14.5,-22.6)(15.6,-22.9)(17.1,-22.6)(18.6,-22.9)(20.2,-22.6)(21.7,-22.9)(23.2,-22.9)(24.7,-22.9)(26.3,-22.9)(28.6,-22.9)(30.8,-22.9)(32.4,-22.9)(33.9,-22.6)(35.4,-22.9)(36.9,-22.6)(38.5,-23.1)(40,-23.6)(41.1,-23.6)(41.9,-20.7)};
\addplot[d1] coordinates {(0,-28.4)(3.4,-30.6)(7.2,-32.2)(10.3,-35.4)(12.6,-40.2)(14.9,-43.4)(17.1,-44.5)(20.9,-45)(24.7,-45.6)(28.6,-46.1)(30.8,-45.6)(32.4,-45.6)(34.6,-44)(36.9,-41.8)(38.8,-43.4)(39.8,-41.3)(40.7,-32.7)(41.9,-26.3)};
\addplot[s2] coordinates {(0,-26.3)(1.9,-26.3)(3.4,-25.8)(4.9,-26.3)(6.5,-26.3)(8,-26.8)(9.5,-26.8)(11,-28.4)(12.6,-29.5)(14.1,-30.6)(15.6,-29.5)(17.1,-28.4)(18.6,-27.9)(20.2,-27.4)(21.7,-26.8)(23.2,-27.9)(24.7,-29)(25.9,-30)};
\addplot[d2] coordinates {(0,-27)(8,-25.2)(17.1,-26.8)(24.7,-26.8)(32.4,-26.8)(36.9,-26.5)(40,-26.1)(41.9,-25.6)(44.2,-26.8)};
\addplot[s3] coordinates {(0,-27.9)(1.9,-26.3)(3.4,-25.8)(4.9,-25.2)(6.5,-24.7)(8,-24.2)(9.5,-24.7)(11,-24.4)(12.6,-23.6)(14.1,-24.2)(15.6,-23.9)(17.1,-23.6)(18.6,-24.2)(20.2,-24.4)(21.7,-24.2)(23.2,-24.4)(24.7,-24.7)(26.3,-24.4)(27.8,-24.7)(29.3,-24.7)(30.8,-24.7)(32.4,-24.7)(33.9,-25)(35.4,-25.2)(36.9,-25.2)(38.5,-26.3)(40,-29)};
\addplot[d3] coordinates {(0,-27.4)(2.7,-30.6)(5.7,-35.4)(8,-41.3)(10.3,-46.1)(13.3,-47.2)(17.1,-47.7)(20.9,-47.5)(24.7,-47.2)(27.8,-47.5)(29.3,-48.8)(30.8,-45)(33.1,-43.9)(34.6,-43.4)(35.8,-46.6)};
\addplot[s4] coordinates {(0,-27.4)(1.1,-28.4)(2.3,-27.4)(3.4,-27.9)(4.9,-28.4)(6.5,-31.1)(7.6,-28.4)(8.8,-25.2)(9.9,-26.3)(11,-27.4)(11.8,-32.7)(12.6,-29.5)(13.3,-31.7)(14.5,-30)(15.6,-29.5)(16.8,-30.6)(17.9,-29.5)(19,-31.1)(20.2,-29)(21.3,-31.1)(22.5,-30)};
\addplot[d4] coordinates {(0,-27.9)(3.4,-29.5)(6.5,-30.6)(9.5,-31.7)(11.8,-33.8)(13.7,-37.5)(15.6,-39.3)(19.4,-39.3)(24.8,-39.7)(29.3,-39.1)(32.4,-39.1)(34.6,-39.7)(36.9,-41.3)(38.5,-41.8)(40,-41.3)(42.3,-40.8)(43.8,-36.5)};
\addplot[s5] coordinates {(0,-24.7)(1.1,-26.8)(2.7,-26.3)(4.2,-25.8)(5.7,-26.8)(6.9,-29)(8,-27.4)(9.5,-26.8)(11,-26.3)(12.6,-24.7)(13.7,-27.4)(14.9,-26.3)(16,-24.7)(17.1,-25.2)(18.3,-27.4)(19.4,-25.2)(20.6,-25.8)(21.7,-24.7)(22.8,-26.3)(24,-27.4)(25.1,-24.7)(26.3,-26.8)(27.8,-24.2)(28.9,-25.8)(30.1,-27.9)(31.2,-25.2)(32.4,-28.4)(33.3,-30.6)(34.1,-26.3)};
\addplot[d5] coordinates {(0,-26.3)(1.9,-33.8)(4.2,-41.3)(6.5,-45.6)(8.8,-48.8)(11,-50.4)(14.1,-50.4)(17.1,-49.6)(20.2,-49.8)(22.5,-48.8)(24.7,-50.9)(27,-49.8)(29.3,-48.2)(30.8,-44.5)(31.9,-41.3)};
\end{axis}
\end{tikzpicture}
\end{document}
